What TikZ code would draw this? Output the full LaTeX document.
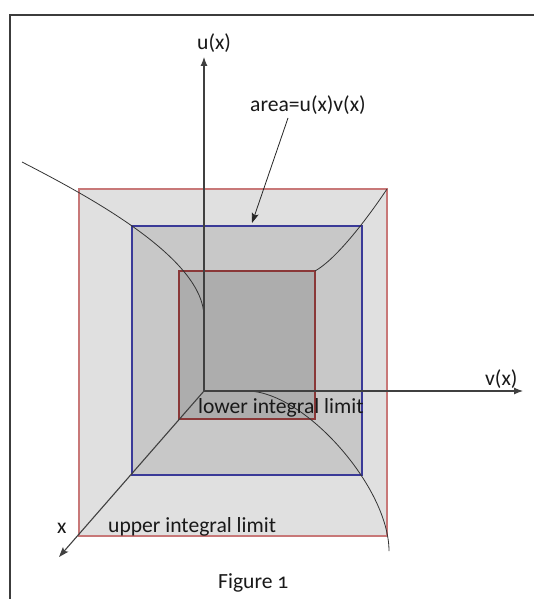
\documentclass[tikz,border=0pt]{standalone}
\usepackage{fontspec}
\setmainfont{Carlito}[Numbers=OldStyle]
\usetikzlibrary{arrows.meta}
\definecolor{outerfill}{HTML}{E0E0E0}
\definecolor{midfill}{HTML}{C8C8C8}
\definecolor{innerfill}{HTML}{ADADAD}
\definecolor{outerred}{HTML}{C87878}
\definecolor{bluecol}{HTML}{3A3A98}
\definecolor{innerred}{HTML}{8A3838}
\definecolor{framecol}{HTML}{3C3C3C}
\definecolor{axiscol}{HTML}{404040}
\begin{document}
\begin{tikzpicture}[x=1pt,y=-1pt,
  lbl/.style={inner sep=0pt, font=\fontsize{21.6}{25}\selectfont, anchor=base west, text=black!90},
  axisline/.style={draw=axiscol, line width=1.1pt},
  curveline/.style={draw=black!80, line width=0.8pt},
  tipA/.style={-{Latex[length=9pt,width=7pt]}},
  tipB/.style={-{Stealth[length=10pt,width=7pt,inset=2pt]}}]
\useasboundingbox (0,0) rectangle (534,599);
\fill[white] (0,0) rectangle (534,599);
% frame
\coordinate (FR) at (534,15);
\coordinate (FC) at (10,15);
\coordinate (FB) at (10,599);
\draw[framecol, line width=1.3pt] (FR) -- (FC) -- (FB);
% rectangles
\coordinate (A1) at (79,189);  \coordinate (A2) at (387,536);
\coordinate (B1) at (132,226); \coordinate (B2) at (362,475);
\coordinate (C1) at (179,271); \coordinate (C2) at (315,419);
\draw[fill=outerfill, draw=outerred, line width=1.2pt] (A1) rectangle (A2);
\draw[fill=midfill, draw=bluecol, line width=1.5pt] (B1) rectangle (B2);
\draw[fill=innerfill, draw=innerred, line width=1.2pt] (C1) rectangle (C2);
% curves
\coordinate (L0) at (22,162);  \coordinate (L1) at (204,317);
\coordinate (R0) at (315,271); \coordinate (R1) at (387,189);
\coordinate (S0) at (247,391); \coordinate (S1) at (389,551);
\draw[curveline] (L0) .. controls (88,196) and (204,258) .. (L1);
\draw[curveline] (R0) .. controls (335,260) and (365,222) .. (R1);
\draw[curveline] (S0) .. controls (304,391) and (389,487) .. (S1);
% axes
\coordinate (O) at (204,391);
\coordinate (U) at (204,57);
\coordinate (V) at (523,391);
\coordinate (X) at (59,557);
\draw[axisline, tipA] (O) -- (U);
\draw[axisline, tipA] (O) -- (V);
\draw[axisline, tipB] (O) -- (X);
% labels
\node[lbl] (ulab) at (197,50) {u(x)};
\node[lbl] (vlab) at (485,385) {v(x)};
\node[lbl] (xlab) at (57,533) {x};
\node[lbl] (area) at (250,112) {area=u(x)v(x)};
\node[lbl] (lower) at (198,413) {lower integral limit};
\node[lbl] (upper) at (108,532) {upper integral limit};
\node[lbl] (fig) at (218,588) {Figure 1};
% annotation arrow
\coordinate (AT) at (252,223);
\draw[black!85, line width=0.8pt, tipB] (288,118) -- (AT);
\end{tikzpicture}
\end{document}
